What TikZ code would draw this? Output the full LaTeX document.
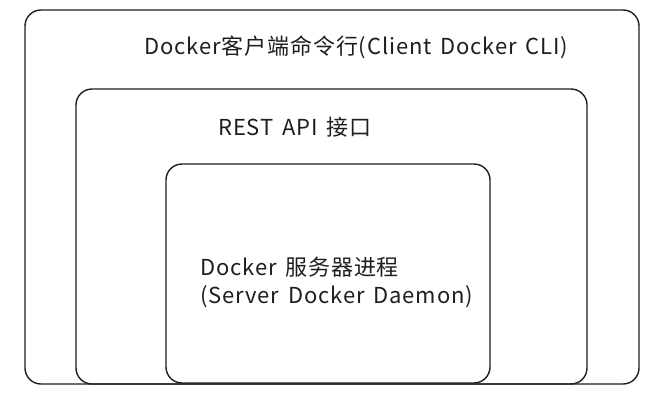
\documentclass[tikz,border=0pt]{standalone}
\usepackage{fontspec}
\setmainfont[LetterSpace=4,WordSpace=1.5]{Noto Sans CJK SC}
\definecolor{ink}{HTML}{1E1E1E}
\tikzset{
  panel/.style={draw=ink, line width=1.4bp, rounded corners=16bp, inner sep=0pt, fill=none},
  label/.style={anchor=west, inner sep=0pt, text=ink, font=\fontsize{22bp}{26bp}\selectfont}
}
\begin{document}
\begin{tikzpicture}[x=1bp,y=-1bp]
\useasboundingbox (0,0) rectangle (667,400);
\node[panel, minimum width=614bp, minimum height=374bp] (outer) at (332,197) {};
\node[panel, minimum width=511bp, minimum height=295bp] (middle) at (331.5,236.5) {};
\node[panel, minimum width=324bp, minimum height=219bp] (inner) at (328,273.5) {};
\node[label] (cli) at (144,47) {Docker客户端命令行(Client Docker CLI)};
\node[label] (api) at (218,127) {REST API 接口};
\node[label] (srv1) at (200,267) {Docker 服务器进程};
\node[label] (srv2) at (200,297) {(Server Docker Daemon)};
\end{tikzpicture}
\end{document}
